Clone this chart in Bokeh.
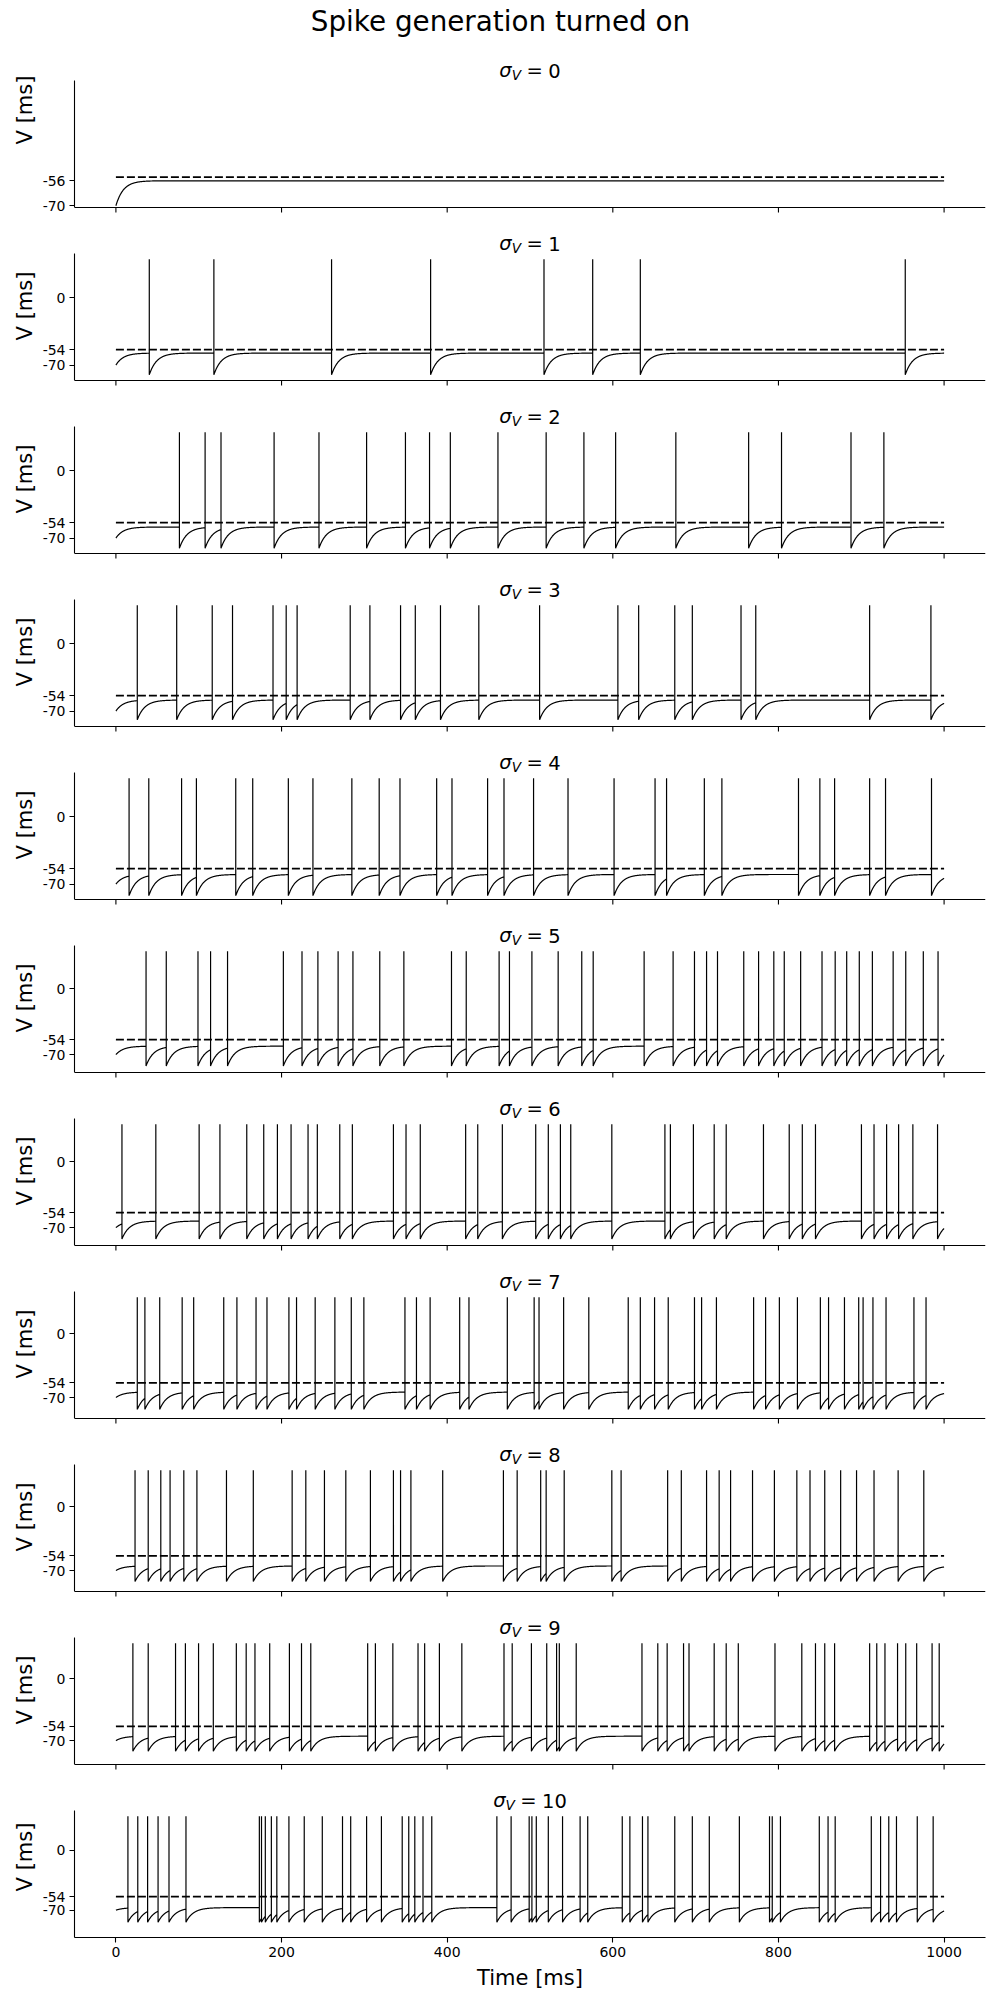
import numpy as np
from bokeh.plotting import figure
from bokeh.layouts import column
from bokeh.models import Range1d, FixedTicker
from bokeh.core.properties import value
from bokeh.embed import file_html
from bokeh.resources import INLINE

# ---------------- data ----------------
SIGMAS = [0, 1, 2, 3, 4, 5, 6, 7, 8, 9, 10]
T_END = 1000.0          # simulated duration [ms]
V_INIT = -70.0          # initial membrane potential
V_THRESH = -54.0        # threshold (dashed line)
V_PEAK = 40.0           # spike peak

SPIKES_0 = []
SPIKES_1 = [40.3, 118.3, 260.4, 380.0, 516.9, 575.7, 633.2, 953.1]
SPIKES_2 = [76.7, 107.7, 126.9, 191.0, 245.2, 302.7, 349.6, 378.7, 403.8, 461.3, 519.5,
            565.1, 603.4, 676.1, 764.0, 803.7, 887.6, 927.3]
SPIKES_3 = [25.8, 73.4, 116.3, 140.8, 189.7, 205.6, 218.8, 282.9, 306.7, 343.7, 361.5,
            391.9, 438.2, 511.6, 606.1, 631.2, 674.8, 696.0, 754.8, 772.6, 910.1, 984.1]
SPIKES_4 = [15.9, 39.7, 79.3, 97.2, 144.7, 165.2, 208.2, 237.9, 284.9, 317.9, 343.0, 387.3,
            405.8, 448.8, 468.6, 504.3, 545.9, 601.5, 651.0, 664.9, 710.5, 731.7, 824.2,
            850.0, 867.8, 910.1, 929.3, 984.8]
SPIKES_5 = [36.4, 60.8, 99.1, 114.3, 134.8, 202.2, 224.7, 243.9, 268.3, 286.2, 318.6, 347.7,
            405.2, 423.0, 462.7, 475.2, 502.3, 534.0, 562.5, 576.3, 637.8, 672.8, 698.6,
            713.2, 726.4, 758.1, 776.0, 794.4, 807.0, 826.8, 852.6, 868.5, 882.4, 897.6,
            913.4, 938.5, 953.7, 974.9, 992.7]
SPIKES_6 = [7.3, 48.2, 100.5, 125.6, 158.0, 178.5, 195.0, 211.5, 232.0, 243.2, 270.3, 285.5,
            335.1, 350.3, 367.5, 422.3, 436.9, 466.6, 506.9, 522.1, 536.7, 549.2, 598.8,
            662.9, 669.5, 697.3, 722.4, 736.9, 781.9, 813.0, 828.8, 844.7, 900.2, 915.4,
            930.6, 945.1, 962.3, 992.1]
SPIKES_7 = [25.8, 35.0, 52.9, 80.0, 93.9, 130.2, 146.1, 169.2, 182.4, 208.9, 218.1, 240.6,
            264.4, 284.2, 299.4, 349.0, 362.9, 379.4, 415.1, 426.3, 472.6, 505.0, 510.9,
            540.6, 571.0, 618.6, 633.2, 650.4, 666.9, 698.6, 707.2, 725.1, 770.0, 784.5,
            801.1, 822.9, 850.6, 860.5, 879.7, 896.9, 902.2, 914.1, 929.9, 963.6, 978.2]
SPIKES_8 = [23.1, 39.0, 54.2, 65.4, 82.0, 97.8, 133.5, 165.9, 212.8, 229.3, 251.8, 277.6,
            307.3, 335.1, 343.7, 356.2, 394.6, 467.9, 484.5, 512.9, 519.5, 541.3, 598.8,
            610.0, 666.2, 682.7, 713.2, 728.4, 742.2, 768.7, 795.1, 822.2, 838.1, 855.9,
            875.1, 894.3, 915.4, 944.5, 975.5]
SPIKES_9 = [20.5, 39.0, 72.0, 83.9, 99.8, 117.6, 145.4, 157.3, 167.9, 185.7, 209.5, 224.1,
            235.3, 304.0, 313.3, 334.4, 364.8, 372.8, 390.6, 417.7, 468.6, 478.5, 501.7,
            520.2, 532.1, 535.4, 555.8, 635.2, 654.3, 665.6, 685.4, 692.0, 722.4, 736.9,
            751.5, 795.8, 828.2, 844.7, 855.9, 867.8, 910.1, 918.7, 928.6, 943.8, 953.7,
            966.9, 985.5, 994.1]
SPIKES_10 = [14.5, 26.4, 38.3, 50.9, 64.1, 84.6, 173.2, 175.8, 180.4, 187.7, 194.3, 208.9,
             227.4, 249.2, 273.6, 283.5, 302.7, 320.6, 345.7, 353.6, 360.9, 370.8, 381.4,
             460.0, 477.2, 499.0, 502.3, 507.6, 522.1, 539.3, 560.5, 569.7, 611.4, 620.6,
             635.8, 642.4, 674.8, 696.0, 716.5, 752.8, 789.2, 792.5, 802.4, 849.3, 859.9,
             868.5, 912.1, 923.3, 933.2, 942.5, 967.6, 986.8]
SPIKES = [SPIKES_0, SPIKES_1, SPIKES_2, SPIKES_3, SPIKES_4, SPIKES_5,
          SPIKES_6, SPIKES_7, SPIKES_8, SPIKES_9, SPIKES_10]

V_LEVEL = [-56.0, -57.5, -58.5, -58.5, -60.0, -61.0, -63.0, -64.0, -65.0, -65.0, -67.0]
V_TROUGH = [-70.0, -80.0, -80.5, -79.0, -82.0, -82.0, -82.0, -83.0, -82.0, -82.0, -84.0]
TAU_MS = 9.0

X_TICKS = [0, 200, 400, 600, 800, 1000]
Y_TICKS_FIRST = [-70, -56]
Y_TICKS_OTHER = [-70, -54, 0]
SUPTITLE = "Spike generation turned on"

# ---------------- layout constants ----------------
FIG_W = 1000
BORDER_L, BORDER_R = 74, 15
FRAME_W = FIG_W - BORDER_L - BORDER_R      # 911
AX_H = 127                                  # height of the drawn axes box
X_LO, X_HI = -50.0, 1050.0
Y_LO = [-71.0, -86, -86, -86, -86, -89, -89, -93, -93, -97, -102]
Y_HI = [0.3, 46, 46, 46, 46, 46, 46, 46.3, 46.3, 46.6, 46.8]
FONT = "DejaVu Sans"
INK = "black"


def build_trace(spikes, level, trough):
    ts, vs = [], []
    t0, v0 = 0.0, V_INIT
    for t_next in list(spikes) + [T_END]:
        seg = np.arange(t0, t_next, 0.25)
        ts.extend(seg.tolist())
        vs.extend((level + (v0 - level) * np.exp(-(seg - t0) / TAU_MS)).tolist())
        v_end = level + (v0 - level) * np.exp(-(t_next - t0) / TAU_MS)
        if t_next < T_END:
            ts += [t_next, t_next, t_next]
            vs += [v_end, V_PEAK, trough]
            t0, v0 = t_next, trough
        else:
            ts.append(t_next)
            vs.append(v_end)
    return ts, vs


def txt(p, x, y, s, size, style="normal", align="left", xo=0.0, yo=0.0):
    p.text(x=[x], y=[y], text=[s], text_font=value(FONT), text_font_size=value(size),
           text_font_style=value(style), text_align=value(align),
           text_baseline=value("alphabetic"), text_color=INK, x_offset=xo, y_offset=yo)


def tick_text(t):
    return "%d" % t   # plain hyphen-minus, as in the reference


figs = []
n = len(SIGMAS)
for i, sigma in enumerate(SIGMAS):
    first = i == 0
    last = i == n - 1
    top_ext = 80 if first else 34          # px of title area above the axes box
    bot_ext = 0 if last else 12            # px below axes box used for the tick marks
    upp = (Y_HI[i] - Y_LO[i]) / AX_H       # data units per pixel
    y_top = Y_HI[i] + top_ext * upp
    y_bot = Y_LO[i] - bot_ext * upp

    p = figure(width=FIG_W, frame_height=top_ext + AX_H + bot_ext,
               min_border_left=BORDER_L, min_border_right=BORDER_R,
               min_border_top=0, min_border_bottom=63 if last else 0,
               x_range=Range1d(X_LO, X_HI), y_range=Range1d(y_bot, y_top),
               output_backend="svg", toolbar_location=None, title=None)
    p.outline_line_color = None
    p.grid.visible = False
    p.background_fill_color = "white"
    p.border_fill_color = "white"

    ts, vs = build_trace(SPIKES[i], V_LEVEL[i], V_TROUGH[i])
    p.line(ts, vs, color=INK, line_width=1.2)
    p.line([0, T_END], [V_THRESH, V_THRESH], color=INK, line_width=1.7, line_dash="8 3")

    # y axis (limited to the axes box)
    yt = Y_TICKS_FIRST if first else Y_TICKS_OTHER
    ya = p.yaxis[0]
    ya.bounds = (Y_LO[i], Y_HI[i])
    ya.ticker = FixedTicker(ticks=yt, minor_ticks=[])
    ya.major_label_overrides = {t: tick_text(t) for t in yt}
    ya.axis_label = "V [ms]"
    ya.axis_label_standoff = 3
    axes = [ya]

    xa = p.xaxis[0]
    if last:
        xa.ticker = FixedTicker(ticks=X_TICKS, minor_ticks=[])
        xa.axis_label = "Time [ms]"
        xa.axis_label_standoff = 6
        axes.append(xa)
    else:
        xa.visible = False
        # bottom spine and outward tick marks of a shared-x panel
        p.line([X_LO, X_HI], [Y_LO[i], Y_LO[i]], color=INK, line_width=1.1)
        p.segment(x0=X_TICKS, x1=X_TICKS, y0=[Y_LO[i]] * len(X_TICKS),
                  y1=[Y_LO[i] - 5 * upp] * len(X_TICKS), color=INK, line_width=1.1)

    for ax in axes:
        ax.axis_line_width = 1.1
        ax.axis_line_color = INK
        ax.major_tick_line_width = 1.1
        ax.major_tick_line_color = INK
        ax.major_tick_out = 5
        ax.major_tick_in = 0
        ax.minor_tick_out = 0
        ax.minor_tick_in = 0
        ax.major_label_text_font = FONT
        ax.major_label_text_font_size = "14px"
        ax.major_label_text_color = INK
        ax.major_label_standoff = 4
        ax.axis_label_text_font = FONT
        ax.axis_label_text_font_style = "normal"
        ax.axis_label_text_font_size = "21px"
        ax.axis_label_text_color = INK

    # panel title  sigma_V = N  (italic sigma, italic subscript V, "=", N)
    fs = 19.5
    fs_sub = 0.7 * fs
    w_sig = 0.634 * fs
    w_v = 0.684 * fs_sub
    sp = 0.278 * fs
    w_eq = 0.838 * fs
    num = "%d" % sigma
    w_num = 0.636 * len(num) * fs
    total = w_sig + w_v + sp + w_eq + sp + w_num
    left = -total / 2.0
    xc = (X_LO + X_HI) / 2.0
    yb = Y_HI[i] + 10 * upp
    txt(p, xc, yb, "σ", "%gpx" % fs, "italic", xo=left)
    txt(p, xc, yb, "V", "%.2fpx" % fs_sub, "italic", xo=left + w_sig, yo=4)
    txt(p, xc, yb, "=", "%gpx" % fs, xo=left + w_sig + w_v + sp)
    txt(p, xc, yb, num, "%gpx" % fs, xo=left + w_sig + w_v + sp + w_eq + sp)

    if first:
        x_mid = X_LO + (FIG_W / 2.0 - BORDER_L) * (X_HI - X_LO) / FRAME_W
        txt(p, x_mid, y_top - 21 * upp, SUPTITLE, "27.8px", align="center")

    figs.append(p)

layout = column(*figs, spacing=0)
open("out.html", "w").write(file_html(layout, INLINE))
